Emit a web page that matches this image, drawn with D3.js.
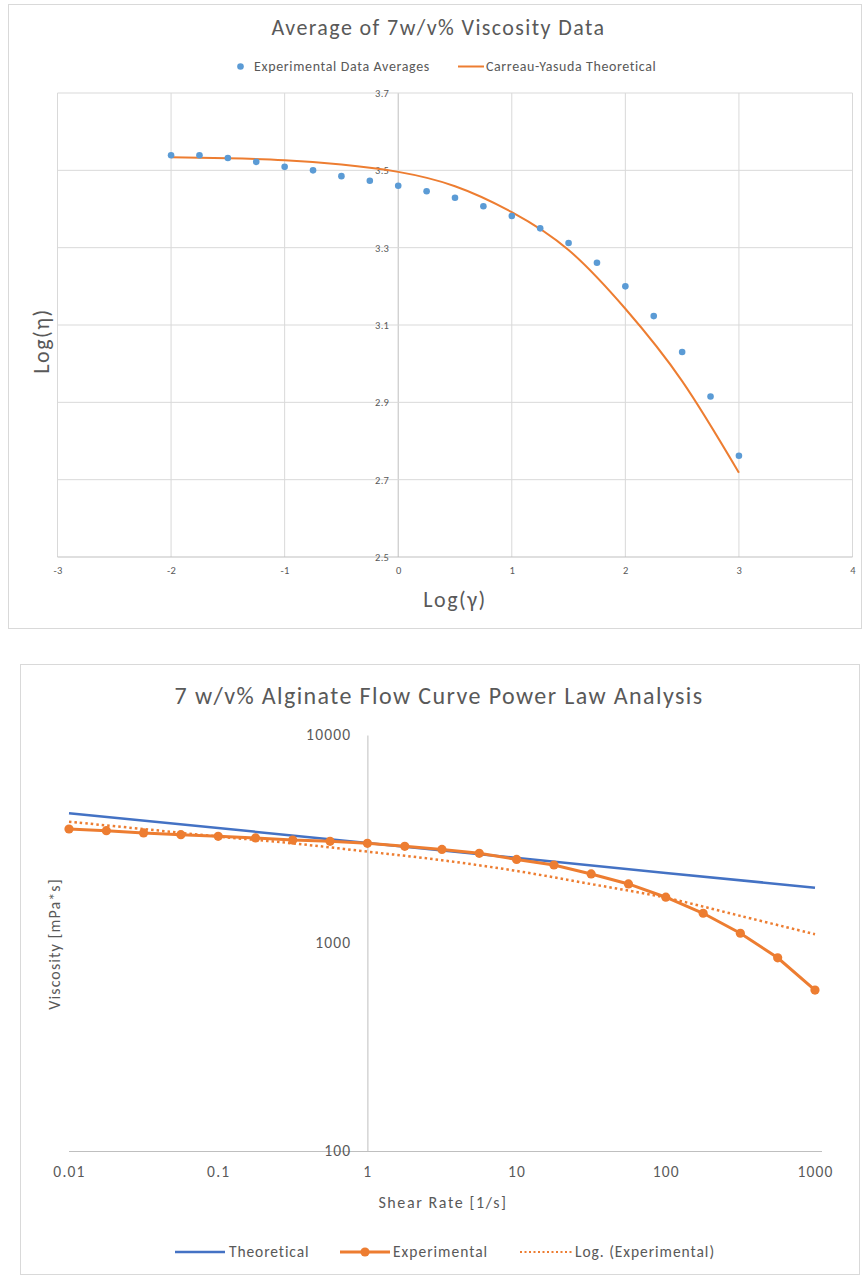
<!DOCTYPE html>
<html>
<head>
<meta charset="utf-8">
<script src="https://cdn.jsdelivr.net/npm/d3@7"></script>
<style>
  body { margin: 0; background: #fff; }
  text { font-family: Carlito, Calibri, Lato, sans-serif; fill: #595959; }
</style>
</head>
<body>
<svg id="fig" width="863" height="1276"></svg>
<script>
// ---- top chart data: log(shear rate) vs log(viscosity)
const logRate = [-2, -1.75, -1.5, -1.25, -1, -0.75, -0.5, -0.25, 0, 0.25, 0.5,
  0.75, 1, 1.25, 1.5, 1.75, 2, 2.25, 2.5, 2.75, 3];
const logViscAvg = [3.539, 3.539, 3.532, 3.522, 3.509, 3.500, 3.485, 3.473, 3.460,
  3.446, 3.429, 3.407, 3.382, 3.350, 3.312, 3.261, 3.200, 3.123, 3.030, 2.915, 2.762];
const cyRate = [-2, -1.5, -1, -0.5, 0, 0.5, 1, 1.5, 2, 2.5, 3];
const cyVisc = [3.534, 3.531, 3.526, 3.515, 3.496, 3.459, 3.392, 3.294, 3.142, 2.955, 2.718];
const topXTicks = [-3, -2, -1, 0, 1, 2, 3, 4];
const topYTicks = [2.5, 2.7, 2.9, 3.1, 3.3, 3.5, 3.7];

// ---- bottom chart data: shear rate [1/s] vs viscosity [mPa*s]
const shearRate = [0.01, 0.0178, 0.0316, 0.0562, 0.1, 0.178, 0.316, 0.562, 1, 1.78,
  3.16, 5.62, 10, 17.8, 31.6, 56.2, 100, 178, 316, 562, 1000];
const viscExp = [3532, 3467, 3381, 3319, 3258, 3199, 3126, 3083, 3013, 2917, 2818,
  2698, 2523, 2371, 2148, 1923, 1660, 1390, 1114, 849, 594];
const theoRate = [0.01, 1, 100, 1000];
const viscTheo = [4207, 3027, 2173, 1845];
const trendRate = [0.01, 0.0316, 0.1, 0.316, 1, 3.16, 10, 31.6, 100, 316, 1000];
const viscTrend = [3828, 3530, 3250, 3013, 2750, 2500, 2220, 1920, 1650, 1350, 1102];
const botXTicks = [0.01, 0.1, 1, 10, 100, 1000];
const botYTicks = [100, 1000, 10000];

const blue = "#5b9bd5", orange = "#ed7d31", darkBlue = "#4472c4", grid = "#d9d9d9";
const svg = d3.select("#fig");

// small helper for text with font size + spacing
function label(g, x, y, txt, size, spacing, anchor) {
  return g.append("text").attr("x", x).attr("y", y)
    .attr("text-anchor", anchor || "start")
    .style("font-size", size + "px").style("letter-spacing", spacing + "px")
    .text(txt);
}

// ================= top chart =================
const topG = svg.append("g");
topG.append("rect").attr("x", 8.5).attr("y", 4.5).attr("width", 853).attr("height", 624)
  .attr("fill", "#fff").attr("stroke", grid);

const x1 = d3.scaleLinear().domain([-3, 4]).range([57.5, 852.5]);
const y1 = d3.scaleLinear().domain([2.5, 3.7]).range([557, 93]);

// gridlines
topG.selectAll(".vgrid").data(topXTicks).enter().append("line")
  .attr("x1", d => x1(d)).attr("x2", d => x1(d))
  .attr("y1", y1(2.5)).attr("y2", y1(3.7))
  .attr("stroke", d => d === 0 ? "#bfbfbf" : grid);
topG.selectAll(".hgrid").data(topYTicks).enter().append("line")
  .attr("x1", x1(-3)).attr("x2", x1(4))
  .attr("y1", d => y1(d)).attr("y2", d => y1(d))
  .attr("stroke", d => d === 2.5 ? "#bfbfbf" : grid);

// axes (labels only)
const xAx1 = topG.append("g").attr("transform", `translate(0,${y1(2.5)})`)
  .call(d3.axisBottom(x1).tickValues(topXTicks).tickSize(0).tickPadding(10)
    .tickFormat(d => String(d)));
const yAx1 = topG.append("g").attr("transform", `translate(${x1(0)},0)`)
  .call(d3.axisLeft(y1).tickValues(topYTicks).tickSize(0).tickPadding(9)
    .tickFormat(d3.format(".1f")));
[xAx1, yAx1].forEach(a => {
  a.select(".domain").remove();
  a.selectAll("text").style("font-size", "10.5px").style("letter-spacing", "0.3px")
    .attr("fill", "#595959");
});

// theoretical curve
topG.append("path").datum(cyRate.map((r, i) => [r, cyVisc[i]]))
  .attr("fill", "none").attr("stroke", orange).attr("stroke-width", 2)
  .attr("d", d3.line().x(d => x1(d[0])).y(d => y1(d[1])).curve(d3.curveNatural));

// experimental averages
topG.selectAll(".pt").data(logRate).enter().append("circle")
  .attr("cx", d => x1(d)).attr("cy", (d, i) => y1(logViscAvg[i]))
  .attr("r", 3.3).attr("fill", blue);

label(topG, 438.5, 35, "Average of 7w/v% Viscosity Data", 22, 1.4, "middle");
// legend
topG.append("circle").attr("cx", 240.5).attr("cy", 66.5).attr("r", 3.3).attr("fill", blue);
label(topG, 254, 71, "Experimental Data Averages", 14, 0.65);
topG.append("line").attr("x1", 458).attr("x2", 484).attr("y1", 66.5).attr("y2", 66.5)
  .attr("stroke", orange).attr("stroke-width", 2);
label(topG, 486, 71, "Carreau-Yasuda Theoretical", 14, 0.6);
// axis titles
label(topG, 455, 607, "Log(γ)", 22, 1.5, "middle");
topG.append("text").attr("transform", "translate(49,341) rotate(-90)")
  .attr("text-anchor", "middle").style("font-size", "22px").style("letter-spacing", "1.5px")
  .text("Log(η)");

// ================= bottom chart =================
const botG = svg.append("g");
botG.append("rect").attr("x", 20.5).attr("y", 664.5).attr("width", 839).attr("height", 610)
  .attr("fill", "#fff").attr("stroke", grid);

const x2 = d3.scaleLog().domain([0.01, 1000]).range([69, 815]);
const y2 = d3.scaleLog().domain([100, 10000]).range([1151, 735]);

const xAx2 = botG.append("g").attr("transform", `translate(0,${y2(100)})`)
  .call(d3.axisBottom(x2).tickValues(botXTicks).tickSize(0).tickPadding(15)
    .tickFormat(d => String(d)));
xAx2.select(".domain").attr("stroke", "#bfbfbf").attr("d", "M69,0.5H822");
const yAx2 = botG.append("g").attr("transform", `translate(${x2(1)},0)`)
  .call(d3.axisLeft(y2).tickValues(botYTicks).tickSize(0).tickPadding(16)
    .tickFormat(d => String(d)));
yAx2.select(".domain").attr("stroke", "#bfbfbf");
[xAx2, yAx2].forEach(a => a.selectAll("text").style("font-size", "15.5px")
  .style("letter-spacing", "1.2px").attr("fill", "#595959"));

const line2 = d3.line().x(d => x2(d[0])).y(d => y2(d[1]));

botG.append("path").datum(theoRate.map((r, i) => [r, viscTheo[i]]))
  .attr("fill", "none").attr("stroke", darkBlue).attr("stroke-width", 2.5)
  .attr("d", line2);
botG.append("path").datum(trendRate.map((r, i) => [r, viscTrend[i]]))
  .attr("fill", "none").attr("stroke", orange).attr("stroke-width", 2.5)
  .attr("stroke-dasharray", "2.5,3")
  .attr("d", line2.curve(d3.curveCatmullRom.alpha(0.5)));
botG.append("path").datum(shearRate.map((r, i) => [r, viscExp[i]]))
  .attr("fill", "none").attr("stroke", orange).attr("stroke-width", 3)
  .attr("d", d3.line().x(d => x2(d[0])).y(d => y2(d[1])));
botG.selectAll(".ept").data(shearRate).enter().append("circle")
  .attr("cx", d => x2(d)).attr("cy", (d, i) => y2(viscExp[i]))
  .attr("r", 4.6).attr("fill", orange);

label(botG, 439, 704, "7 w/v% Alginate Flow Curve Power Law Analysis", 24, 1.4, "middle");
label(botG, 443, 1208, "Shear Rate [1/s]", 16, 1.6, "middle");
botG.append("text").attr("transform", "translate(60,944) rotate(-90)")
  .attr("text-anchor", "middle").style("font-size", "16px").style("letter-spacing", "1.1px")
  .text("Viscosity [mPa*s]");

// legend
const ly = 1252;
botG.append("line").attr("x1", 175).attr("x2", 225).attr("y1", ly).attr("y2", ly)
  .attr("stroke", darkBlue).attr("stroke-width", 2.5);
label(botG, 229, ly + 5, "Theoretical", 15.5, 0.9);
botG.append("line").attr("x1", 340).attr("x2", 390).attr("y1", ly).attr("y2", ly)
  .attr("stroke", orange).attr("stroke-width", 3);
botG.append("circle").attr("cx", 365).attr("cy", ly).attr("r", 4.6).attr("fill", orange);
label(botG, 393, ly + 5, "Experimental", 15.5, 1);
botG.append("line").attr("x1", 520).attr("x2", 572).attr("y1", ly).attr("y2", ly)
  .attr("stroke", orange).attr("stroke-width", 2).attr("stroke-dasharray", "2,2.5");
label(botG, 575, ly + 5, "Log. (Experimental)", 15.5, 0.95);
</script>
</body>
</html>
